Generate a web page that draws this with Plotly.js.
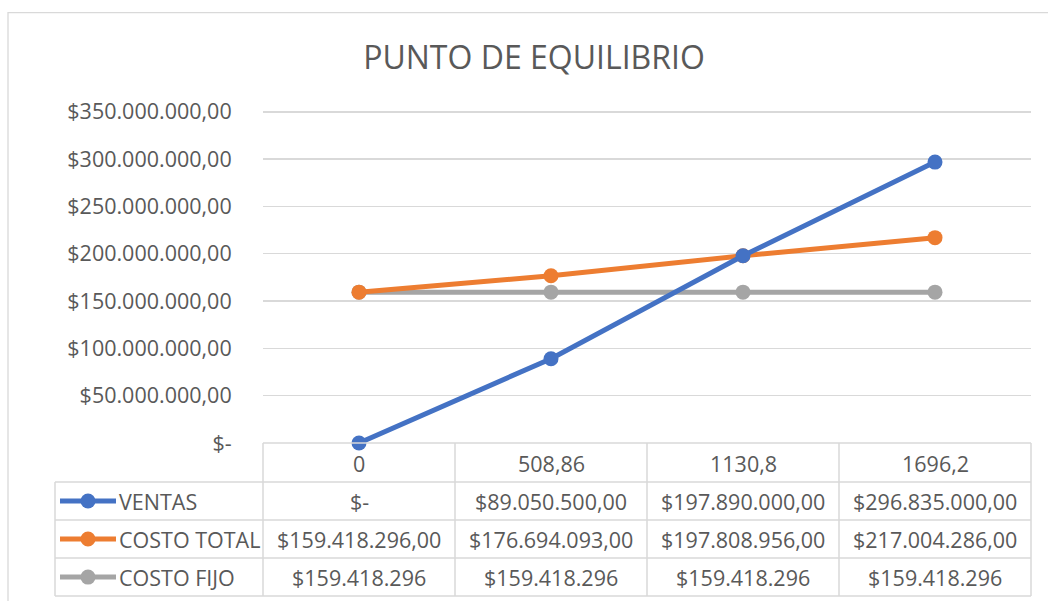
<!DOCTYPE html>
<html>
<head>
<meta charset="utf-8">
<script src="https://cdn.plot.ly/plotly-3.0.1.min.js"></script>
<style>
html,body{margin:0;padding:0;background:#fff;}
#chart{width:1048px;height:601px;}
</style>
</head>
<body>
<div id="chart"></div>
<script>
// ---- data ----
var categories = ['0', '508,86', '1130,8', '1696,2'];
var seriesNames = ['VENTAS', 'COSTO TOTAL', 'COSTO FIJO'];
var ventas = [0, 89050500, 197890000, 296835000];
var costoTotal = [159418296, 176694093, 197808956, 217004286];
var costoFijo = [159418296, 159418296, 159418296, 159418296];
var colors = ['#4472C4', '#ED7D31', '#A5A5A5'];
var yTickVals = [0, 50000000, 100000000, 150000000, 200000000, 250000000, 300000000, 350000000];

function fmt(v, dec) {
  if (v === 0) return '$-';
  var s = Math.round(v).toString().replace(/\B(?=(\d{3})+(?!\d))/g, '.');
  return '$' + s + (dec ? ',00' : '');
}

var allSeries = [ventas, costoTotal, costoFijo];
var decimals = [true, true, false];

var FONT = 'Open Sans, Noto Sans, sans-serif';
var TXT = '#595959';
var GRID = '#D9D9D9';
var FS = 21.5;

var traces = allSeries.map(function (vals, i) {
  return {
    type: 'scatter', mode: 'lines+markers',
    x: categories, y: vals, name: seriesNames[i],
    line: {color: colors[i], width: 5},
    marker: {color: colors[i], size: 15},
    showlegend: false, cliponaxis: false
  };
});
traces = [traces[2], traces[1], traces[0]];

var YMAX = 354000000;
var L = 263, R = 17, B = 158;
var T = 443 - 331 * YMAX / 350000000;
var W = 1048 - L - R, H = 601 - T - B;
function px(x) { return (x - L) / W; }
function py(y) { return (601 - B - y) / H; }

var shapes = [];
var annotations = [];

shapes.push({type: 'rect', xref: 'paper', yref: 'paper', x0: px(8), x1: px(1060), y0: py(13), y1: py(620),
  line: {color: GRID, width: 1.3}, fillcolor: 'rgba(0,0,0,0)', layer: 'below'});

var colEdges = [263, 455, 647, 839, 1031];
var rowEdges = [443, 482, 520, 558, 596];
var tableLeft = 55;
shapes.push({type: 'line', xref: 'paper', yref: 'paper', x0: px(263), x1: px(1031), y0: py(443), y1: py(443), line: {color: GRID, width: 1.5}});
for (var r = 1; r < rowEdges.length; r++) {
  shapes.push({type: 'line', xref: 'paper', yref: 'paper', x0: px(tableLeft), x1: px(1031), y0: py(rowEdges[r]), y1: py(rowEdges[r]), line: {color: GRID, width: 1.5}});
}
colEdges.forEach(function (cx) {
  shapes.push({type: 'line', xref: 'paper', yref: 'paper', x0: px(cx), x1: px(cx), y0: py(443), y1: py(596), line: {color: GRID, width: 1.5}});
});
shapes.push({type: 'line', xref: 'paper', yref: 'paper', x0: px(tableLeft), x1: px(tableLeft), y0: py(482), y1: py(596), line: {color: GRID, width: 1.5}});

categories.forEach(function (c, j) {
  annotations.push({xref: 'x', yref: 'paper', x: j, y: py(463), text: c, showarrow: false,
    font: {family: FONT, size: FS, color: TXT}, xanchor: 'center', yanchor: 'middle'});
});

allSeries.forEach(function (vals, i) {
  var cy = (rowEdges[i + 1] + rowEdges[i + 2]) / 2;
  shapes.push({type: 'line', xref: 'paper', yref: 'paper', x0: px(60), x1: px(116), y0: py(cy), y1: py(cy),
    line: {color: colors[i], width: 5}});
  shapes.push({type: 'circle', xref: 'paper', yref: 'paper', x0: px(80.5), x1: px(95.5), y0: py(cy - 7.5), y1: py(cy + 7.5),
    fillcolor: colors[i], line: {color: colors[i], width: 0}});
  annotations.push({xref: 'paper', yref: 'paper', x: px(117), y: py(cy), text: seriesNames[i], showarrow: false,
    font: {family: FONT, size: FS, color: TXT}, xanchor: 'left', yanchor: 'middle'});
  vals.forEach(function (v, j) {
    annotations.push({xref: 'x', yref: 'paper', x: j, y: py(cy), text: fmt(v, decimals[i]), showarrow: false,
      font: {family: FONT, size: FS, color: TXT}, xanchor: 'center', yanchor: 'middle'});
  });
});

var layout = {
  width: 1048, height: 601,
  margin: {l: L, r: R, t: T, b: B, pad: 0},
  paper_bgcolor: '#fff', plot_bgcolor: '#fff',
  title: {text: 'PUNTO DE EQUILIBRIO', font: {family: FONT, size: 32, color: TXT},
    x: 534 / 1048, xref: 'container', xanchor: 'center', y: 1 - 58 / 601, yanchor: 'middle'},
  xaxis: {type: 'category', range: [-0.5, 3.5], showticklabels: false, showgrid: false,
    zeroline: false, showline: false, ticks: '', fixedrange: true},
  yaxis: {range: [0, YMAX], tickvals: yTickVals, ticktext: yTickVals.map(function (v) { return fmt(v, true); }),
    showgrid: true, gridcolor: GRID, gridwidth: 1.5, zeroline: false, showline: false,
    ticks: 'outside', ticklen: 26, tickcolor: 'rgba(0,0,0,0)',
    tickfont: {family: FONT, size: FS, color: TXT}},
  shapes: shapes,
  annotations: annotations,
  showlegend: false
};

Plotly.newPlot('chart', traces, layout, {displayModeBar: false, staticPlot: true});
</script>
</body>
</html>
